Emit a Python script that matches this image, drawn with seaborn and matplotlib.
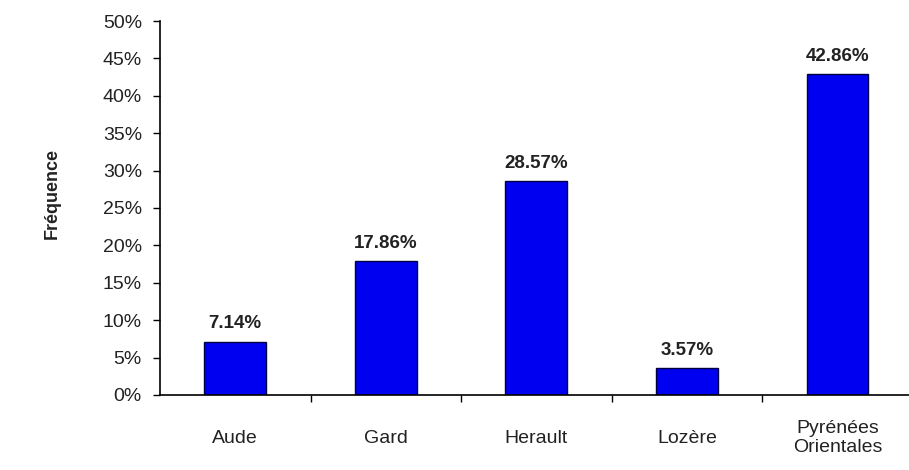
import matplotlib
matplotlib.use("Agg")
import matplotlib.pyplot as plt
import seaborn as sns
import pandas as pd
from matplotlib.ticker import FuncFormatter, FixedLocator

categories = ["Aude", "Gard", "Herault", "Lozère", "Pyrénées\nOrientales"]
values = [7.14, 17.86, 28.57, 3.57, 42.86]

df = pd.DataFrame({"cat": categories, "val": values})

sns.set_style("white")
plt.rcParams['font.family'] = ['Liberation Sans', 'DejaVu Sans']

fig = plt.figure(figsize=(9.09, 4.70), dpi=100)
ax = fig.add_axes([0.176, 0.1596, 0.828, 0.7957])

sns.barplot(data=df, x="cat", y="val", color="#0000F0", width=0.41,
            edgecolor="#000040", linewidth=1.0, saturation=1, ax=ax)

ax.set_ylim(0, 50)
ax.set_xlim(-0.5, 4.5)
ax.set_yticks(range(0, 51, 5))
ax.yaxis.set_major_formatter(FuncFormatter(lambda v, p: f"{int(v)}%"))
ax.tick_params(axis="y", direction="out", length=5, width=1, color="black",
               labelsize=14, pad=8, left=True, labelcolor="#222222")
ax.tick_params(axis="x", length=0, labelsize=14, pad=31, labelcolor="#222222")
for lab in ax.get_xticklabels():
    lab.set_verticalalignment("center")
    lab.set_linespacing(1.2)
ax.xaxis.set_minor_locator(FixedLocator([0.5, 1.5, 2.5, 3.5]))
ax.tick_params(axis="x", which="minor", direction="out", length=5, width=1, color="black", bottom=True)

for s in ["top", "right"]:
    ax.spines[s].set_visible(False)
ax.spines["left"].set_color("black")
ax.spines["bottom"].set_color("black")
ax.spines["left"].set_linewidth(1.2)
ax.spines["bottom"].set_linewidth(1.2)

for i, v in enumerate(values):
    ax.text(i, v + 1.3, f"{v:.2f}%", ha="center", va="bottom",
            fontsize=13.5, fontweight="bold", color="#222222")

ax.set_xlabel("")
ax.set_ylabel("Fréquence", fontsize=13, fontweight="bold", color="#222222")
ax.yaxis.set_label_coords(-0.132, 0.54)

fig.savefig("out.png", dpi=100)
